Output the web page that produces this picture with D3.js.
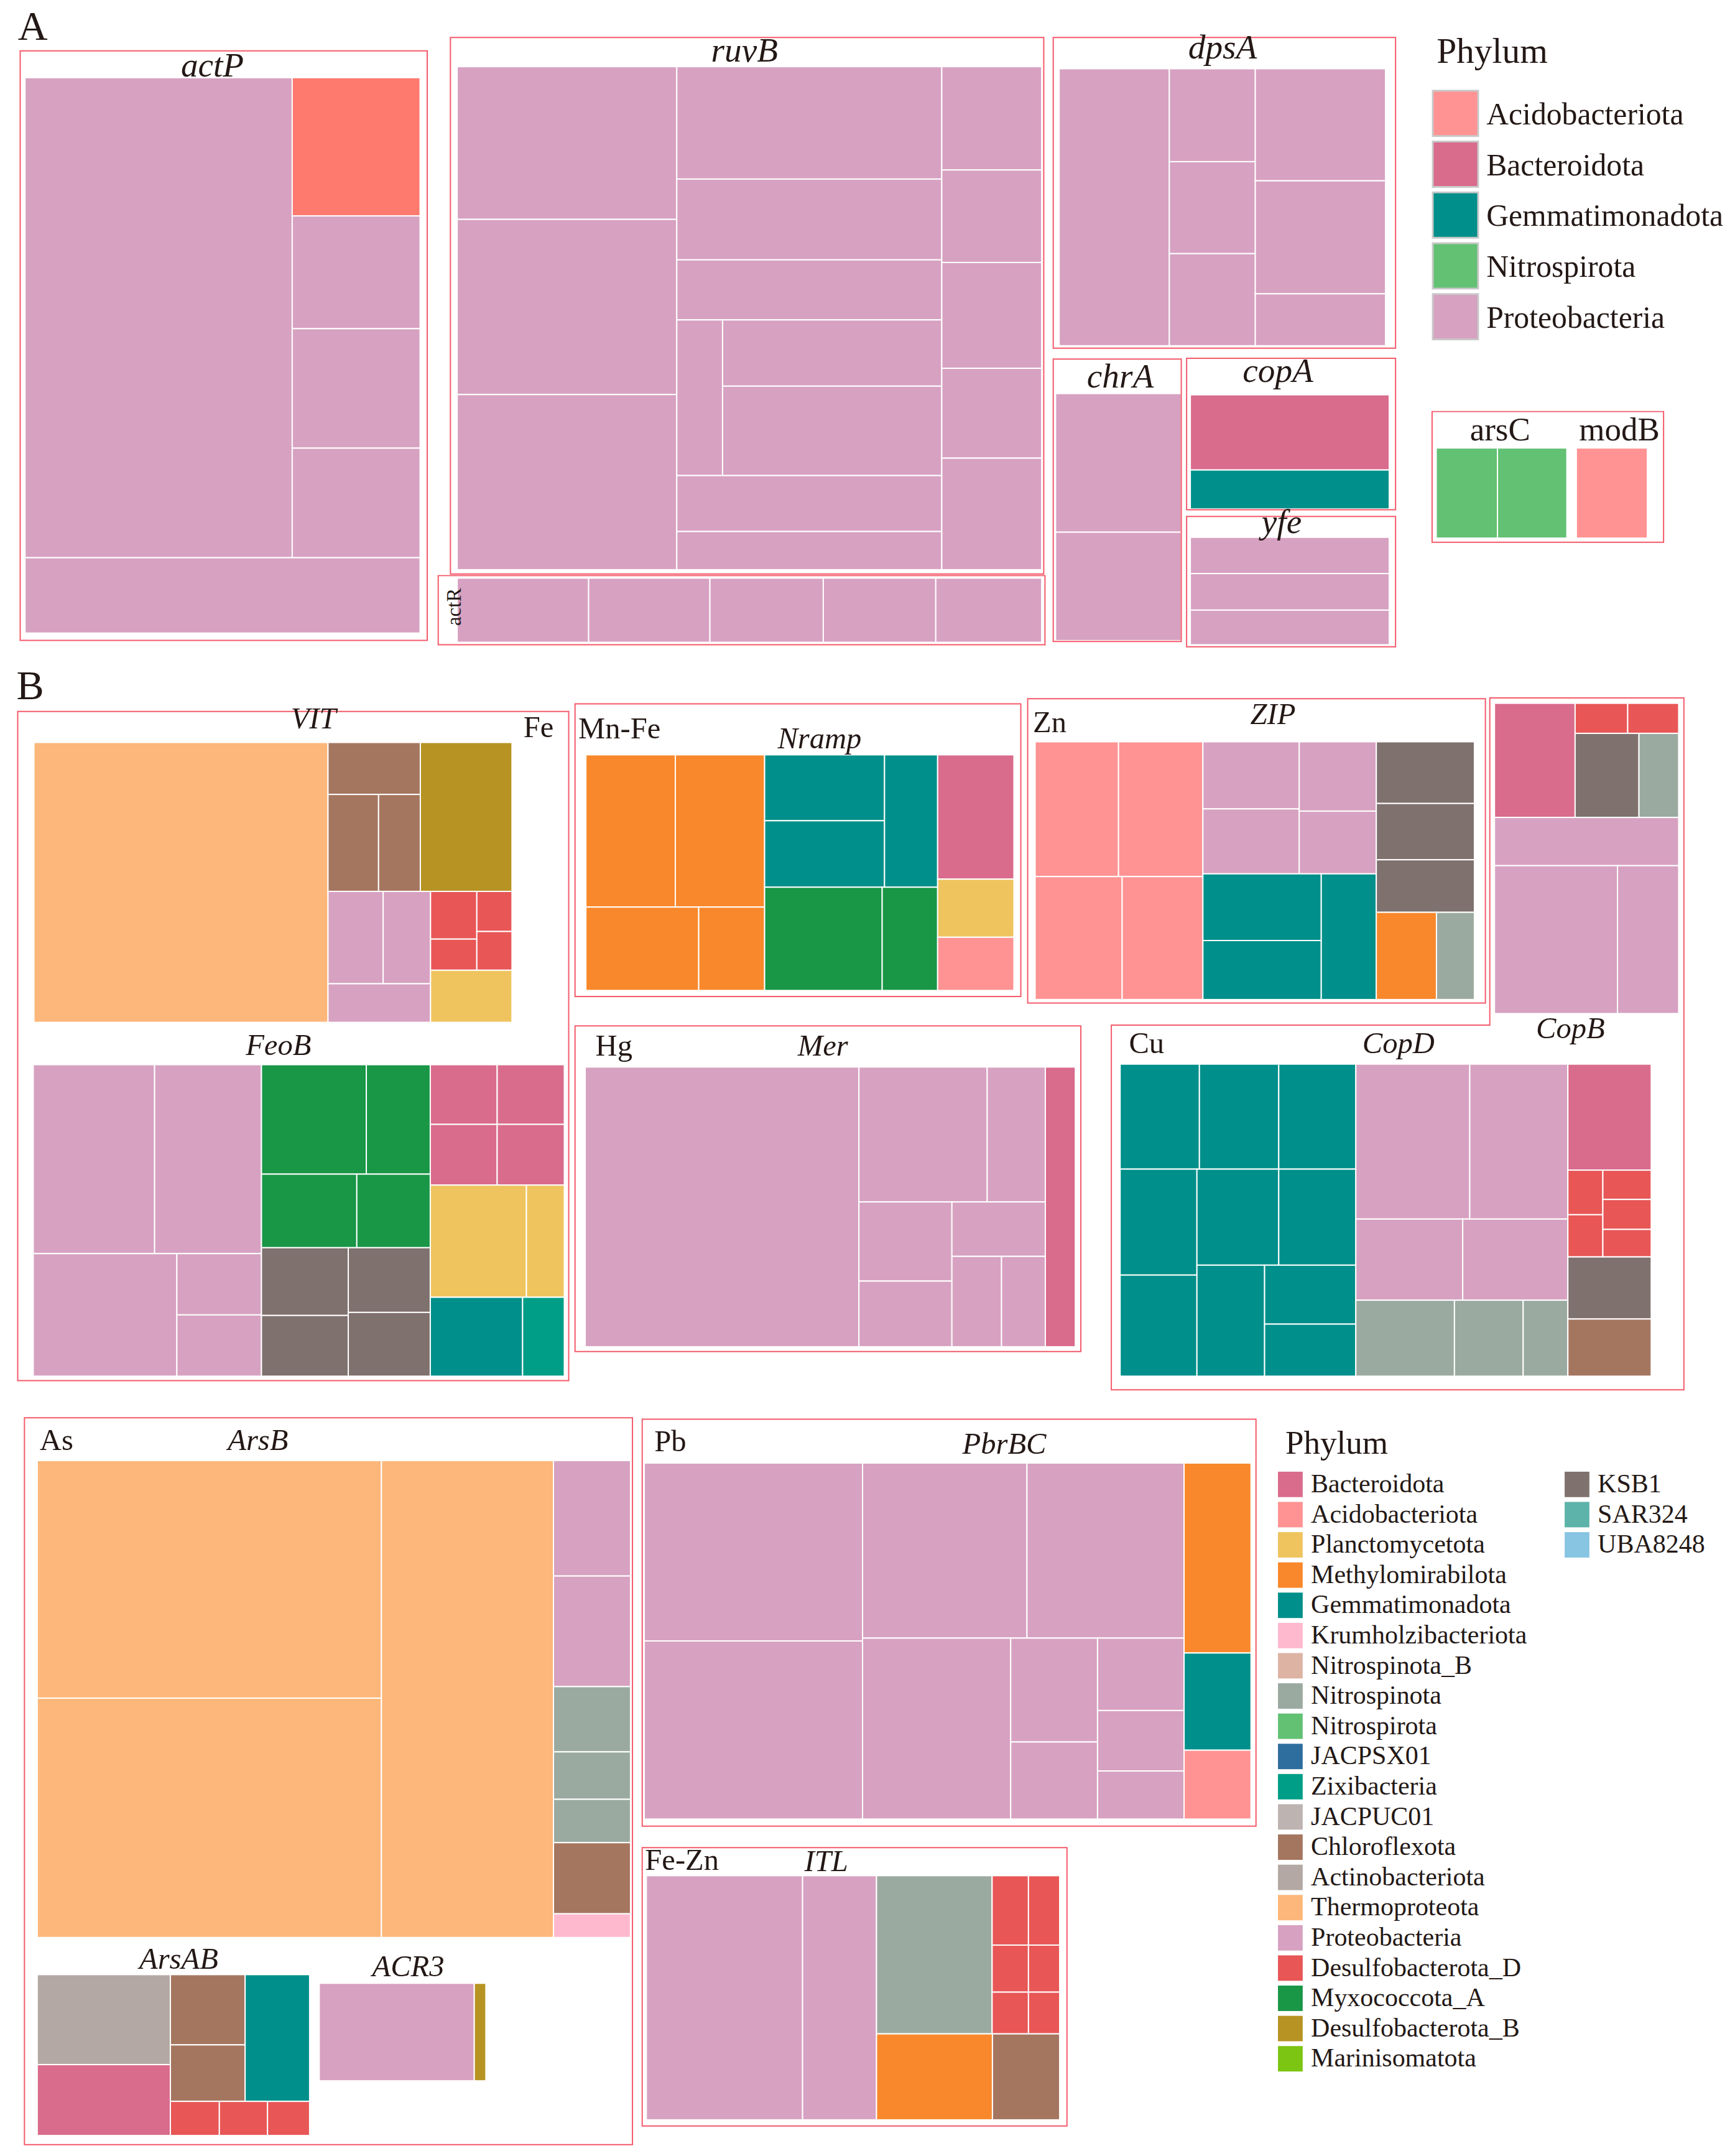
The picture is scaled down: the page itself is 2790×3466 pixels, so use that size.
<!DOCTYPE html>
<html>
<head>
<meta charset="utf-8">
<script src="https://d3js.org/d3.v7.min.js"></script>
<style>
  body { margin: 0; background: #fff; }
  svg text { font-family: "Liberation Serif", "Times New Roman", serif; fill: #231815; }
</style>
</head>
<body>
<div id="chart"></div>
<script>
// phylum codes, names and colours
const phylumCodes = ["Bact","Acid","Plan","Meth","Gemm","Krum","NspB","Nspn","Nspr","JPSX","Zixi","JPUC","Chlo","Acti","Ther","Prot","DesD","Myxo","DesB","Mari","KSB1","SAR3","UBA8","Other"];
const phylumNames = ["Bacteroidota","Acidobacteriota","Planctomycetota","Methylomirabilota","Gemmatimonadota","Krumholzibacteriota","Nitrospinota_B","Nitrospinota","Nitrospirota","JACPSX01","Zixibacteria","JACPUC01","Chloroflexota","Actinobacteriota","Thermoproteota","Proteobacteria","Desulfobacterota_D","Myxococcota_A","Desulfobacterota_B","Marinisomatota","KSB1","SAR324","UBA8248","Other"];
const phylumColors = ["#D96B8C","#FF9393","#EFC45F","#F8882B","#008F8A","#FFB9CE","#DDB3A4","#9BAAA0","#63C174","#2E6E9E","#009E87","#BDB3B0","#A5765F","#B3A8A3","#FDB77A","#D7A1C1","#E85656","#199646","#B79323","#7CC513","#7F716E","#5DB3A9","#87C5E2","#FF7A6E"];

const legendA = ["Acid","Bact","Gemm","Nspr","Prot"];
const legendB1 = ["Bact","Acid","Plan","Meth","Gemm","Krum","NspB","Nspn","Nspr","JPSX","Zixi","JPUC","Chlo","Acti","Ther","Prot","DesD","Myxo","DesB","Mari"];
const legendB2 = ["KSB1","SAR3","UBA8"];

// cell values per gene; "H" = side by side, "V" = stacked
const actP = ["V", ["H", ["Prot",67790], ["V", ["Other",9345],["Prot",7619],["Prot",8074],["Prot",7405]]], ["Prot",15732]];
const ruvB = ["H",
  ["V", ["Prot",17760],["Prot",20370],["Prot",20370]],
  ["V", ["Prot",15771],["Prot",11337],["Prot",8425], ["H", ["Prot",3773], ["V", ["Prot",7688],["Prot",10383]]], ["Prot",7847],["Prot",5360]],
  ["V", ["Prot",5467],["Prot",4893],["Prot",5598],["Prot",4755],["Prot",5903]]];
const actR = ["H", ["Prot",4498],["Prot",4150],["Prot",3878],["Prot",3849],["Prot",3624]];
const dpsA = ["H", ["Prot",15926], ["V", ["Prot",4169],["Prot",4125],["Prot",4131]], ["V", ["Prot",7616],["Prot",7681],["Prot",3528]]];
const chrA = ["V", ["Prot",101],["Prot",79]];
const copA = ["V", ["Bact",55],["Gemm",28.5]];
const yfe = ["V", ["Prot",26.4],["Prot",26.6],["Prot",25.2]];
const arsC = ["H", ["Nspr",43],["Nspr",48.7]];
const modB = ["H", ["Acid",1]];

const VIT = ["H", ["Ther",43327],
  ["V",
    ["H", ["V", ["Chlo",2527], ["H", ["Chlo",2580],["Chlo",2131]]], ["DesB",7184]],
    ["H", ["V", ["H", ["Prot",2680],["Prot",2305]], ["Prot",2083]],
          ["V", ["H", ["V", ["DesD",1163],["DesD",759]], ["V", ["DesD",742],["DesD",717]]], ["Plan",2234]]]]];
const FeoB = ["H",
  ["V", ["H", ["Prot",12073],["Prot",10629]], ["H", ["Prot",9268], ["V", ["Prot",2730],["Prot",2730]]]],
  ["V", ["V", ["H", ["Myxo",6043],["Myxo",3687]], ["H", ["Myxo",3694],["Myxo",2846]]],
        ["H", ["V", ["KSB1",3098],["KSB1",2776]], ["V", ["KSB1",2795],["KSB1",2754]]]],
  ["V", ["V", ["H", ["Bact",2103],["Bact",2111]], ["H", ["Bact",2137],["Bact",2146]]],
        ["H", ["Plan",5680],["Plan",2238]], ["H", ["Gemm",3836],["Zixi",1734]]]];
const Nramp = ["H",
  ["V", ["H", ["Meth",7158],["Meth",7147]], ["H", ["Meth",4947],["Meth",2889]]],
  ["V", ["H", ["V", ["Gemm",4154],["Gemm",4189]], ["Gemm",3696]], ["H", ["Myxo",6382],["Myxo",3011]]],
  ["V", ["Bact",4987],["Plan",2330],["Acid",2135]]];
const Mer = ["H", ["Prot",40455],
  ["V", ["H", ["Prot",9142],["Prot",4144]],
        ["H", ["V", ["Prot",3888],["Prot",3227]], ["V", ["Prot",2685], ["H", ["Prot",2369],["Prot",2092]]]]],
  ["Bact",4438]];
const ZIP = ["H",
  ["V", ["H", ["Acid",5886],["Acid",5955]], ["H", ["Acid",5603],["Acid",5200]]],
  ["V", ["H", ["V", ["Prot",3385],["Prot",3273]], ["V", ["Prot",2797],["Prot",2530]]],
        ["H", ["V", ["Gemm",4133],["Gemm",3655]], ["Gemm",3621]]],
  ["V", ["V", ["KSB1",3170],["KSB1",2892],["KSB1",2699]], ["H", ["Meth",2748],["Nspn",1732]]]];
const CopBtop = ["V",
  ["H", ["Bact",4849], ["V", ["H", ["DesD",833],["DesD",807]], ["H", ["KSB1",2829],["Nspn",1759]]]],
  ["Prot",4680],
  ["H", ["Prot",9587],["Prot",4762]]];
const CopD = ["H",
  ["V", ["H", ["Gemm",4359],["Gemm",4359],["Gemm",4237]],
        ["H", ["V", ["Gemm",4260],["Gemm",4066]],
              ["V", ["H", ["Gemm",4112],["Gemm",3875]], ["H", ["Gemm",3933], ["V", ["Gemm",2816],["Gemm",2487]]]]]],
  ["V", ["H", ["Prot",9243],["Prot",7956]], ["H", ["Prot",4542],["Prot",4465]], ["H", ["Nspn",3925],["Nspn",2734],["Nspn",1779]]],
  ["V", ["Bact",4624], ["H", ["V", ["DesD",817],["DesD",773]], ["V", ["DesD",743],["DesD",758],["DesD",697]]], ["KSB1",2708], ["Chlo",2495]]];
const ArsB = ["H",
  ["H", ["V", ["Ther",43069],["Ther",43393]], ["Ther",43214]],
  ["V", ["Prot",4686],["Prot",4488],["Nspn",2649],["Nspn",1924],["Nspn",1760],["Chlo",2887],["Krum",962]]];
const ArsAB = ["H",
  ["V", ["Acti",6269],["Bact",4940]],
  ["V", ["H", ["V", ["Chlo",2749],["Chlo",2209]], ["Gemm",4278]], ["H", ["DesD",876],["DesD",861],["DesD",753]]]];
const ACR3 = ["H", ["Prot",7952],["DesB",596]];
const PbrBC = ["H",
  ["V", ["Prot",20513],["Prot",20529]],
  ["V", ["H", ["Prot",15199],["Prot",14524]],
        ["H", ["Prot",14158], ["V", ["Prot",4763],["Prot",3534]], ["V", ["Prot",3310],["Prot",2763],["Prot",2198]]]],
  ["V", ["Meth",6717],["Gemm",3437],["Acid",2435]]];
const ITL = ["H", ["Prot",20134], ["Prot",9525],
  ["V", ["H", ["Nspn",9651], ["V", ["H", ["DesD",1331],["DesD",1144]], ["H", ["DesD",902],["DesD",775]], ["H", ["DesD",800],["DesD",687]]]],
        ["H", ["Meth",5260],["Chlo",3051]]]];

// layout (drawing units)
const W = 1263, H = 1569;
const svg = d3.select("#chart").append("svg")
  .attr("width", 2790).attr("height", 3466)
  .attr("viewBox", `0 0 ${W} ${H}`);

const color = d3.scaleOrdinal().domain(phylumCodes).range(phylumColors);

const maps = [
  [actP, [18.2, 56.5, 305.8, 460.7]],
  [ruvB, [332.8, 48.5, 758.3, 414.6]],
  [actR, [332.8, 420.7, 758.3, 467.4]],
  [dpsA, [771, 50, 1008.6, 251.6]],
  [chrA, [768.4, 286.4, 859.9, 466.2]],
  [copA, [866.5, 287.3, 1011.3, 370.4]],
  [yfe, [866.5, 391, 1011.3, 469.2]],
  [arsC, [1045.5, 326, 1140.6, 391.6]],
  [modB, [1147.5, 326, 1199.2, 391.6]],
  [VIT, [24.7, 540.3, 372.7, 744]],
  [FeoB, [24.2, 774.8, 410.8, 1001.5]],
  [Nramp, [426.5, 549.3, 738.1, 720.8]],
  [Mer, [426, 776.5, 782.8, 980.1]],
  [ZIP, [753.5, 539.8, 1073.3, 727.4]],
  [CopBtop, [1087.9, 511.8, 1222, 737.6]],
  [CopD, [815.4, 774.4, 1202, 1001.5]],
  [ArsB, [27.1, 1062.9, 459, 1410]],
  [ArsAB, [27.1, 1437, 225.4, 1554.1]],
  [ACR3, [232.4, 1443.3, 353.7, 1514.3]],
  [PbrBC, [469, 1064.7, 910.7, 1323.8]],
  [ITL, [470.5, 1365, 771.4, 1542.7]]
];

// group outlines as point lists
const outlines = [
  [[14.7,37],[311,37],[311,466],[14.7,466]],
  [[327.9,27.3],[759.8,27.3],[759.8,417.7],[327.9,417.7]],
  [[319,418.9],[760.7,418.9],[760.7,469.2],[319,469.2]],
  [[766.7,27.3],[1015.9,27.3],[1015.9,253.4],[766.7,253.4]],
  [[766.7,261.3],[859.9,261.3],[859.9,466.8],[766.7,466.8]],
  [[863.8,260.7],[1015.9,260.7],[1015.9,371],[863.8,371]],
  [[863.8,375.8],[1015.9,375.8],[1015.9,470.7],[863.8,470.7]],
  [[1042.5,299.5],[1211,299.5],[1211,394.6],[1042.5,394.6]],
  [[12.9,517.7],[414,517.7],[414,1004.7],[12.9,1004.7]],
  [[418.6,512.2],[743.1,512.2],[743.1,725.2],[418.6,725.2]],
  [[418.6,746.6],[786.8,746.6],[786.8,983.6],[418.6,983.6]],
  [[748.1,508.5],[1081.3,508.5],[1081.3,730],[748.1,730]],
  [[1084.5,507.9],[1225.8,507.9],[1225.8,1011.4],[809,1011.4],[809,746],[1084.5,746]],
  [[17.8,1031.8],[460.4,1031.8],[460.4,1560.7],[17.8,1560.7]],
  [[467.5,1032.8],[914.3,1032.8],[914.3,1329],[467.5,1329]],
  [[467.5,1344.6],[776.7,1344.6],[776.7,1547.2],[467.5,1547.2]]
];

// [text, x, y, anchor, italic, size]
const labels = [
  ["A", 13, 29, "start", false, 30], ["B", 12, 509, "start", false, 30],
  ["actP", 154.6, 55.5, "middle", true, 25], ["ruvB", 542, 45, "middle", true, 25],
  ["dpsA", 890, 42.4, "middle", true, 25], ["chrA", 815.5, 282, "middle", true, 25],
  ["copA", 930.3, 278, "middle", true, 25], ["yfe", 933, 388, "middle", true, 25],
  ["arsC", 1092, 320.7, "middle", false, 24], ["modB", 1178.8, 320.7, "middle", false, 24],
  ["Fe", 403, 536.5, "end", false, 22], ["VIT", 228.2, 530, "middle", true, 22],
  ["FeoB", 202.7, 767.7, "middle", true, 22],
  ["Mn-Fe", 421, 537.3, "start", false, 22], ["Nramp", 596.6, 544.6, "middle", true, 22],
  ["Hg", 433.5, 768, "start", false, 22], ["Mer", 599, 768, "middle", true, 22],
  ["Zn", 751.9, 532.6, "start", false, 22], ["ZIP", 926.6, 527, "middle", true, 22],
  ["Cu", 821.8, 766.2, "start", false, 22], ["CopD", 1018, 766.2, "middle", true, 22],
  ["CopB", 1143.2, 755.4, "middle", true, 22],
  ["As", 28.9, 1055.3, "start", false, 22], ["ArsB", 187.8, 1055.3, "middle", true, 22],
  ["ArsAB", 130.1, 1432.9, "middle", true, 22], ["ACR3", 297.2, 1438.1, "middle", true, 22],
  ["Pb", 476.3, 1056, "start", false, 22], ["PbrBC", 731.1, 1057.7, "middle", true, 22],
  ["Fe-Zn", 469.6, 1360.8, "start", false, 22], ["ITL", 601.5, 1361.9, "middle", true, 22]
];

function toNode(spec) {
  if (spec[0] === "H" || spec[0] === "V") {
    return { dir: spec[0], children: spec.slice(1).map(toNode) };
  }
  return { phylum: spec[0], value: spec[1] };
}

function tile(node, x0, y0, x1, y1) {
  if (node.data.dir === "H") d3.treemapDice(node, x0, y0, x1, y1);
  else d3.treemapSlice(node, x0, y0, x1, y1);
}

function drawTreemap(spec, area) {
  const root = d3.hierarchy(toNode(spec)).sum(d => d.value || 0);
  d3.treemap().size([area[2] - area[0], area[3] - area[1]]).tile(tile).round(false)(root);
  const g = svg.append("g").attr("transform", `translate(${area[0]},${area[1]})`);
  g.selectAll("rect").data(root.leaves()).join("rect")
    .attr("x", d => d.x0).attr("y", d => d.y0)
    .attr("width", d => d.x1 - d.x0).attr("height", d => d.y1 - d.y0)
    .attr("fill", d => color(d.data.phylum))
    .attr("stroke", "#fff").attr("stroke-width", 0.9);
}

maps.forEach(m => drawTreemap(m[0], m[1]));

const outlineLine = d3.line().curve(d3.curveLinearClosed);
svg.append("g").selectAll("path").data(outlines).join("path")
  .attr("d", outlineLine)
  .attr("fill", "none").attr("stroke", "#f55a6a").attr("stroke-width", 0.9);

svg.append("g").selectAll("text").data(labels).join("text")
  .attr("x", d => d[1]).attr("y", d => d[2])
  .attr("text-anchor", d => d[3])
  .style("font-style", d => d[4] ? "italic" : "normal")
  .style("font-size", d => d[5] + "px")
  .text(d => d[0]);

svg.append("text")
  .attr("transform", "translate(335.5,441.7) rotate(-90)")
  .attr("text-anchor", "middle")
  .style("font-size", "15px")
  .text("actR");

// legend A
const nameOf = c => phylumNames[phylumCodes.indexOf(c)];
svg.append("text").attr("x", 1045.8).attr("y", 45.5).style("font-size", "26px").text("Phylum");
const la = svg.append("g").selectAll("g").data(legendA).join("g")
  .attr("transform", (d, i) => `translate(1043,${66 + i * 37})`);
la.append("rect").attr("width", 33).attr("height", 33)
  .attr("fill", d => color(d)).attr("stroke", "#c8c8c8").attr("stroke-width", 1.3);
la.append("text").attr("x", 39).attr("y", 24.5).style("font-size", "22.5px").text(d => nameOf(d));

// legend B
svg.append("text").attr("x", 935.7).attr("y", 1057.8).style("font-size", "24px").text("Phylum");
const lb = svg.append("g").selectAll("g")
  .data(legendB1.map((c, i) => [c, 0, i]).concat(legendB2.map((c, i) => [c, 1, i])))
  .join("g")
  .attr("transform", d => `translate(${d[1] ? 1139 : 930.3},${1071 + d[2] * 22})`);
lb.append("rect").attr("width", 18).attr("height", 18.5).attr("fill", d => color(d[0]));
lb.append("text").attr("x", 24).attr("y", 15).style("font-size", "19px").text(d => nameOf(d[0]));
</script>
</body>
</html>
